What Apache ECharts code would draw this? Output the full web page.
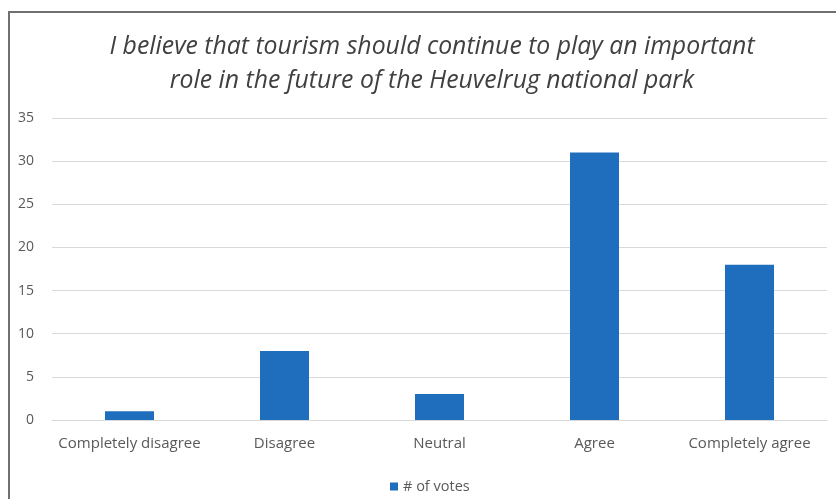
<!DOCTYPE html>
<html>
<head>
<meta charset="utf-8">
<script src="https://cdn.jsdelivr.net/npm/echarts@6/dist/echarts.min.js"></script>
<style>
  html, body { margin: 0; padding: 0; background: #ffffff; }
  #chart { width: 836px; height: 499px; }
</style>
</head>
<body>
<div id="chart"></div>
<script>
// Survey answers and vote counts
const categories = ['Completely disagree', 'Disagree', 'Neutral', 'Agree', 'Completely agree'];
const votes = [1, 8, 3, 31, 18];
const seriesName = '# of votes';
const titleText = 'I believe that tourism should continue to play an important\nrole in the future of the Heuvelrug national park';

const FONT = 'Open Sans';
const chart = echarts.init(document.getElementById('chart'), null, { renderer: 'canvas' });

chart.setOption({
  backgroundColor: '#ffffff',
  animation: false,
  textStyle: { fontFamily: FONT },
  graphic: [{
    type: 'rect',
    shape: { x: 9, y: 12, width: 900, height: 600 },
    style: { fill: 'none', stroke: '#707070', lineWidth: 2 },
    silent: true
  }],
  title: {
    text: titleText,
    left: 427,
    textAlign: 'center',
    top: 25,
    textStyle: {
      fontFamily: FONT,
      fontStyle: 'italic',
      fontWeight: 'normal',
      fontSize: 24.8,
      lineHeight: 34,
      color: '#404040'
    }
  },
  legend: {
    data: [seriesName],
    left: 385,
    top: 474,
    icon: 'rect',
    itemWidth: 8,
    itemHeight: 8,
    itemGap: 4,
    textStyle: { fontFamily: FONT, fontSize: 14.5, color: '#595959' }
  },
  grid: { left: 52, right: 9, top: 118, bottom: 79 },
  xAxis: {
    type: 'category',
    data: categories,
    axisLine: { show: true, lineStyle: { color: '#d9d9d9', width: 1 } },
    axisTick: { show: false },
    axisLabel: { fontFamily: FONT, fontSize: 15, color: '#595959', margin: 16, interval: 0 }
  },
  yAxis: {
    type: 'value',
    min: 0,
    max: 35,
    interval: 5,
    axisLine: { show: false },
    axisTick: { show: false },
    splitLine: { lineStyle: { color: '#d9d9d9', width: 1 } },
    axisLabel: { fontFamily: FONT, fontSize: 14, color: '#595959', margin: 18 }
  },
  series: [{
    name: seriesName,
    type: 'bar',
    data: votes,
    barWidth: 49,
    itemStyle: { color: '#1f6ebd' }
  }]
});
</script>
</body>
</html>
